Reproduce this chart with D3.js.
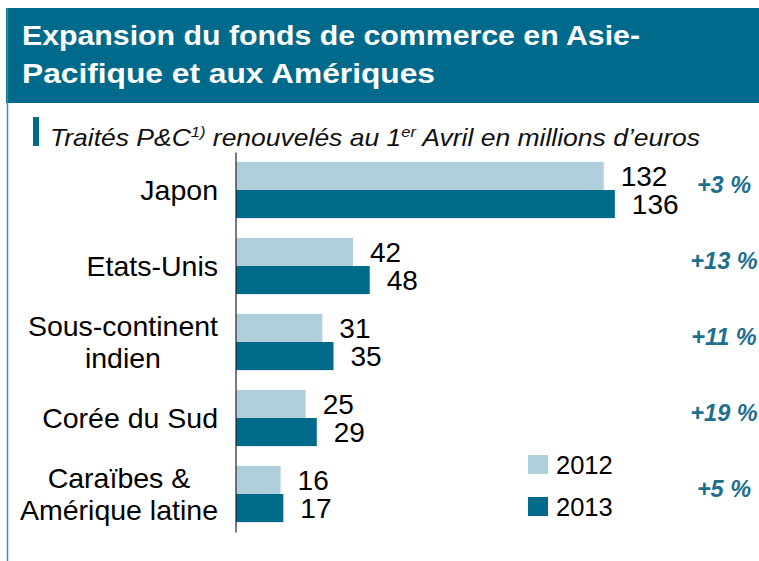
<!DOCTYPE html>
<html>
<head>
<meta charset="utf-8">
<script src="https://cdn.jsdelivr.net/npm/d3@7"></script>
<style>
  html, body { margin: 0; padding: 0; background: #fff; }
  svg { display: block; font-family: "Liberation Sans", Arial, sans-serif; }
</style>
</head>
<body>
<svg id="chart" width="759" height="561"></svg>
<script>
// ---- Data ----
const categories = ["Japon", "Etats-Unis", "Sous-continent indien", "Corée du Sud", "Caraïbes & Amérique latine"];
const categoryLines = [["Japon"], ["Etats-Unis"], ["Sous-continent", "indien"], ["Corée du Sud"], ["Caraïbes &", "Amérique latine"]];
const seriesNames = ["2012", "2013"];
const values2012 = [132, 42, 31, 25, 16];
const values2013 = [136, 48, 35, 29, 17];
const growthLabels = ["+3 %", "+13 %", "+11 %", "+19 %", "+5 %"];
const titleLines = ["Expansion du fonds de commerce en Asie-", "Pacifique et aux Amériques"];

// ---- Styles ----
const colors = { "2012": "#aecfdb", "2013": "#006a8a" };
const teal = "#006a8c";
const pctColor = "#1d6f8d";

const svg = d3.select("#chart");
const W = 759, H = 561;

// Title box & left rule
svg.append("rect").attr("x", 6).attr("y", 8).attr("width", W - 6).attr("height", 95).attr("fill", teal);
svg.append("line").attr("x1", 7.5).attr("x2", 7.5).attr("y1", 8).attr("y2", H)
  .attr("stroke", "#3e8aa8").attr("stroke-width", 1.5);

const titleWidths = [618, 413];
titleLines.forEach((t, i) => {
  svg.append("text").attr("fill", "#fff").attr("font-weight", "bold").attr("font-size", 28)
    .attr("x", 22).attr("y", 45 + i * 37.5)
    .attr("textLength", titleWidths[i]).attr("lengthAdjust", "spacingAndGlyphs").text(t);
});

// Subtitle with marker
svg.append("rect").attr("x", 33).attr("y", 117).attr("width", 6).attr("height", 29).attr("fill", teal);
const sub = svg.append("text").attr("x", 50).attr("y", 146).attr("font-style", "italic")
  .attr("font-size", 24).attr("fill", "#111")
  .attr("textLength", 650).attr("lengthAdjust", "spacingAndGlyphs");
sub.append("tspan").text("Traités P&C");
sub.append("tspan").attr("font-size", 15).attr("dy", -9).text("1)");
sub.append("tspan").attr("dy", 9).text(" renouvelés au 1");
sub.append("tspan").attr("font-size", 15).attr("dy", -9).text("er");
sub.append("tspan").attr("dy", 9).text(" Avril en millions d’euros");

// ---- Scales ----
const x = d3.scaleLinear().domain([0, 140]).range([236, 626]);
const y = d3.scaleBand().domain(categories).range([152, 532]).paddingInner(0.26).paddingOuter(0.13);
const ySub = d3.scaleBand().domain(seriesNames).range([0, y.bandwidth()]).padding(0);

const rows = categories.map((c, i) => ({
  cat: c, lines: categoryLines[i], growth: growthLabels[i],
  vals: [{ s: "2012", v: values2012[i] }, { s: "2013", v: values2013[i] }]
}));

// Bars
const g = svg.append("g");
const grp = g.selectAll("g.grp").data(rows).join("g").attr("class", "grp")
  .attr("transform", d => `translate(0,${y(d.cat)})`);

grp.selectAll("rect").data(d => d.vals).join("rect")
  .attr("x", x(0)).attr("y", d => ySub(d.s))
  .attr("width", d => x(d.v) - x(0)).attr("height", ySub.bandwidth())
  .attr("fill", d => colors[d.s]);

grp.selectAll("text.val").data(d => d.vals).join("text").attr("class", "val")
  .attr("x", d => x(d.v) + 17).attr("y", d => ySub(d.s) + ySub.bandwidth() / 2)
  .attr("dy", "0.37em").attr("font-size", 28).attr("fill", "#000").text(d => d.v);

// Axis line
const axis = d3.axisLeft(y).tickSize(0).tickSizeOuter(0).tickFormat("");
svg.append("g").attr("transform", `translate(${x(0) - 0.5},0)`).call(axis)
  .call(s => s.select(".domain").attr("stroke", "#222").attr("stroke-width", 1.2));

// Category labels (block right-aligned, lines centred within block)
const labelRight = 218;
rows.forEach(d => {
  const cy = y(d.cat) + y.bandwidth() / 2;
  const n = d.lines.length;
  const lh = 32;
  const t = svg.append("text").attr("font-size", 28.5).attr("fill", "#000").attr("text-anchor", "middle");
  const spans = d.lines.map((ln, j) =>
    t.append("tspan").attr("y", cy + (j - (n - 1) / 2) * lh).attr("dy", "0.35em").text(ln));
  const widths = spans.map(s => s.node().getComputedTextLength());
  const maxW = d3.max(widths);
  spans.forEach(s => s.attr("x", labelRight - maxW / 2));
});

// Growth labels
svg.selectAll("text.pct").data(rows).join("text").attr("class", "pct")
  .attr("x", 724).attr("y", d => y(d.cat) + y.bandwidth() / 2 - 5).attr("dy", "0.35em")
  .attr("text-anchor", "middle").attr("font-size", 23.5).attr("font-weight", "bold")
  .attr("font-style", "italic").attr("fill", pctColor).text(d => d.growth);

// Legend
const legend = svg.append("g").selectAll("g").data(seriesNames).join("g")
  .attr("transform", (d, i) => `translate(528,${455 + i * 42})`);
legend.append("rect").attr("width", 20).attr("height", 19).attr("fill", d => colors[d]);
legend.append("text").attr("x", 28).attr("y", 10).attr("dy", "0.36em")
  .attr("font-size", 25.5).attr("fill", "#000").text(d => d);
</script>
</body>
</html>
